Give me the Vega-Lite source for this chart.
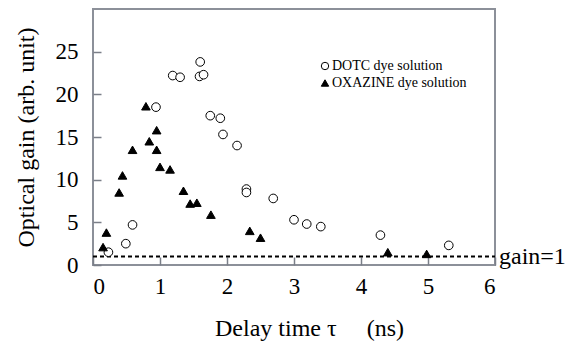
{
  "$schema": "https://vega.github.io/schema/vega-lite/v6.json",
  "width": 402,
  "height": 256,
  "autosize": {"type": "none"},
  "padding": {"left": 93, "top": 9, "right": 73, "bottom": 80},
  "background": "white",
  "config": {
    "view": {"stroke": "#8c9099", "strokeWidth": 2},
    "font": "Times New Roman",
    "axis": {
      "domain": false,
      "grid": false,
      "offset": -8,
      "tickColor": "#7a7f88",
      "tickWidth": 1.5,
      "tickSize": 8,
      "labelFont": "Times New Roman",
      "labelFontSize": 23,
      "labelColor": "black",
      "titleFont": "Times New Roman",
      "titleFontSize": 24,
      "titleFontWeight": "normal",
      "titleColor": "black"
    },
    "legend": {
      "labelFont": "Times New Roman"
    }
  },
  "datasets": {
    "pts": [
      {"series": "DOTC dye solution", "t": 0.23, "g": 1.5},
      {"series": "DOTC dye solution", "t": 0.49, "g": 2.5},
      {"series": "DOTC dye solution", "t": 0.59, "g": 4.7},
      {"series": "DOTC dye solution", "t": 0.94, "g": 18.5},
      {"series": "DOTC dye solution", "t": 1.19, "g": 22.2},
      {"series": "DOTC dye solution", "t": 1.30, "g": 22.0},
      {"series": "DOTC dye solution", "t": 1.60, "g": 23.8},
      {"series": "DOTC dye solution", "t": 1.59, "g": 22.1},
      {"series": "DOTC dye solution", "t": 1.65, "g": 22.3},
      {"series": "DOTC dye solution", "t": 1.75, "g": 17.5},
      {"series": "DOTC dye solution", "t": 1.90, "g": 17.2},
      {"series": "DOTC dye solution", "t": 1.94, "g": 15.3},
      {"series": "DOTC dye solution", "t": 2.15, "g": 14.0},
      {"series": "DOTC dye solution", "t": 2.29, "g": 8.9},
      {"series": "DOTC dye solution", "t": 2.29, "g": 8.5},
      {"series": "DOTC dye solution", "t": 2.69, "g": 7.8},
      {"series": "DOTC dye solution", "t": 3.00, "g": 5.3},
      {"series": "DOTC dye solution", "t": 3.19, "g": 4.8},
      {"series": "DOTC dye solution", "t": 3.40, "g": 4.5},
      {"series": "DOTC dye solution", "t": 4.29, "g": 3.5},
      {"series": "DOTC dye solution", "t": 5.31, "g": 2.3},
      {"series": "OXAZINE dye solution", "t": 0.15, "g": 2.1},
      {"series": "OXAZINE dye solution", "t": 0.20, "g": 3.8},
      {"series": "OXAZINE dye solution", "t": 0.39, "g": 8.5},
      {"series": "OXAZINE dye solution", "t": 0.44, "g": 10.5},
      {"series": "OXAZINE dye solution", "t": 0.59, "g": 13.5},
      {"series": "OXAZINE dye solution", "t": 0.79, "g": 18.6},
      {"series": "OXAZINE dye solution", "t": 0.84, "g": 14.5},
      {"series": "OXAZINE dye solution", "t": 0.95, "g": 15.8},
      {"series": "OXAZINE dye solution", "t": 0.95, "g": 13.5},
      {"series": "OXAZINE dye solution", "t": 1.00, "g": 11.5},
      {"series": "OXAZINE dye solution", "t": 1.15, "g": 11.2},
      {"series": "OXAZINE dye solution", "t": 1.35, "g": 8.7},
      {"series": "OXAZINE dye solution", "t": 1.45, "g": 7.2},
      {"series": "OXAZINE dye solution", "t": 1.55, "g": 7.3},
      {"series": "OXAZINE dye solution", "t": 1.76, "g": 5.9},
      {"series": "OXAZINE dye solution", "t": 2.34, "g": 4.0},
      {"series": "OXAZINE dye solution", "t": 2.50, "g": 3.2},
      {"series": "OXAZINE dye solution", "t": 4.40, "g": 1.5},
      {"series": "OXAZINE dye solution", "t": 4.98, "g": 1.3}
    ],
    "ref": [
      {"t": 0, "g": 1, "label": ""},
      {"t": 6, "g": 1, "label": "gain=1"}
    ]
  },
  "layer": [
    {
      "data": {"name": "ref"},
      "mark": {"type": "line", "color": "black", "strokeWidth": 2, "strokeDash": [4, 3]},
      "encoding": {
        "x": {"field": "t", "type": "quantitative"},
        "y": {"field": "g", "type": "quantitative"}
      }
    },
    {
      "data": {"name": "ref"},
      "mark": {"type": "text", "align": "left", "baseline": "middle", "dx": 4, "dy": 1, "fontSize": 24, "font": "Times New Roman", "color": "black", "clip": false},
      "encoding": {
        "x": {"field": "t", "type": "quantitative"},
        "y": {"field": "g", "type": "quantitative"},
        "text": {"field": "label"}
      }
    },
    {
      "data": {"name": "pts"},
      "mark": {"type": "point", "strokeWidth": 1, "opacity": 1, "size": 75},
      "encoding": {
        "x": {
          "field": "t", "type": "quantitative",
          "scale": {"domain": [0, 6], "nice": false, "zero": false},
          "axis": {"values": [0, 1, 2, 3, 4, 5, 6], "format": "d", "title": "Delay time τ\u00a0\u00a0\u00a0\u00a0\u00a0(ns)", "labelPadding": 10, "titlePadding": 18, "titleX": 216}
        },
        "y": {
          "field": "g", "type": "quantitative",
          "scale": {"domain": [0, 30], "nice": false},
          "axis": {"values": [0, 5, 10, 15, 20, 25], "format": "d", "title": "Optical gain (arb. unit)", "labelPadding": 15, "titlePadding": 17}
        },
        "shape": {
          "field": "series", "type": "nominal",
          "scale": {"domain": ["DOTC dye solution", "OXAZINE dye solution"], "range": ["circle", "triangle-up"]},
          "legend": {
            "title": null, "orient": "none", "legendX": 225, "legendY": 50,
            "labelFontSize": 14, "labelColor": "black",
            "symbolSize": 55, "symbolStrokeWidth": 1,
            "labelOffset": 0, "rowPadding": 3
          }
        },
        "fill": {
          "field": "series", "type": "nominal",
          "scale": {"domain": ["DOTC dye solution", "OXAZINE dye solution"], "range": ["white", "black"]},
          "legend": {
            "title": null, "orient": "none", "legendX": 225, "legendY": 50,
            "labelFontSize": 14, "labelColor": "black",
            "symbolSize": 55, "symbolStrokeWidth": 1,
            "labelOffset": 0, "rowPadding": 3
          }
        },
        "stroke": {
          "field": "series", "type": "nominal",
          "scale": {"domain": ["DOTC dye solution", "OXAZINE dye solution"], "range": ["black", "black"]},
          "legend": {
            "title": null, "orient": "none", "legendX": 225, "legendY": 50,
            "labelFontSize": 14, "labelColor": "black",
            "symbolSize": 55, "symbolStrokeWidth": 1,
            "labelOffset": 0, "rowPadding": 3
          }
        }
      }
    }
  ]
}
